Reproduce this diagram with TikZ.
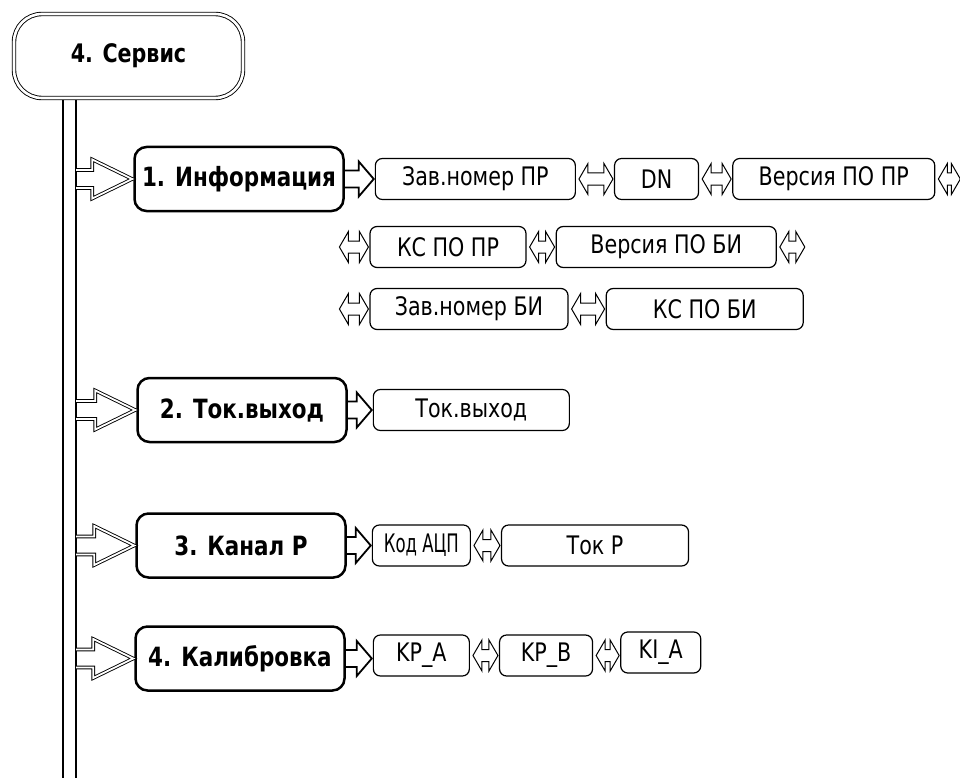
\documentclass[tikz,border=0pt]{standalone}
\usepackage{fontspec}
\newfontfamily\boxfont[FakeStretch=0.9]{DejaVu Sans Condensed}
\usetikzlibrary{positioning, calc, backgrounds}
\tikzset{
  srvnode/.style={
    rectangle, rounded corners=28pt,
    draw, double, double distance=2.6pt, line width=0.9pt, fill=white,
    font=\boxfont\bfseries\fontsize{25.5}{28}\selectfont,
    minimum width=229pt, minimum height=84pt, inner sep=0pt
  },
  mainnode/.style={
    rectangle, rounded corners=12pt,
    draw, line width=2.5pt, fill=white,
    font=\boxfont\bfseries\fontsize{26.5}{29}\selectfont,
    minimum width=209pt, minimum height=64pt, inner sep=0pt
  },
  itemnode/.style={
    rectangle, rounded corners=7pt,
    draw, line width=1.2pt,
    font=\boxfont\fontsize{25.5}{28}\selectfont,
    minimum width=#1, minimum height=41pt, inner sep=0pt
  },
  itemnode/.default=100pt,
  barline/.style={draw, double, double distance=11.5pt, line width=1.5pt},
  fatarrowline/.style={draw, double, double distance=1.8pt, line width=0.9pt},
  smallarrowline/.style={draw, line width=1.8pt},
  dblarrowline/.style={draw, line width=1pt},
}
% hollow block arrows, drawn between named points
\newcommand\fatarrow[2]{%
  \draw[fatarrowline] let \p1=(#1), \p2=(#2.west) in
    (\x1,\y2+9) -- (\x2-41,\y2+9) -- (\x2-41,\y2+19.5) -- (\x2-1,\y2)
    -- (\x2-41,\y2-19.5) -- (\x2-41,\y2-9) -- (\x1,\y2-9);}
\newcommand\smallarrow[2]{%
  \draw[smallarrowline] let \p1=(#1.east), \p2=(#2.west) in
    (\x1,\y1+8.5) -- (\x2-16,\y1+8.5) -- (\x2-16,\y1+17.5) -- (\x2-1,\y1)
    -- (\x2-16,\y1-17.5) -- (\x2-16,\y1-8.5) -- (\x1,\y1-8.5);}
\newcommand\dblarrow[2]{%
  \draw[dblarrowline] let \p1=(#1), \p2=(#2) in
    (\x1+3,\y1) -- (\x1+12,\y1+15.5) -- (\x1+12,\y1+6) -- (\x2-10,\y1+6)
    -- (\x2-10,\y1+15.5) -- (\x2-1,\y1) -- (\x2-10,\y1-15.5) -- (\x2-10,\y1-6)
    -- (\x1+12,\y1-6) -- (\x1+12,\y1-15.5) -- cycle;}
\begin{document}
\begin{tikzpicture}[x=1pt, y=-1pt]
\useasboundingbox (0,0) rectangle (960,778);

% top node and vertical bar
\node[srvnode] (srv) at (128.5,56) {4. Сервис};
\coordinate (barTop) at (69.5,97);
\coordinate (barBot) at (69.5,778);
\coordinate (barR) at (76,0);
\begin{scope}[on background layer]
  \draw[barline] (barTop) -- (barBot);
\end{scope}

% menu items
\node[mainnode] (info) at (239,179)   {1. Информация};
\node[mainnode] (tok)  at (242,410)   {2. Ток.выход};
\node[mainnode] (kan)  at (241,545.5) {3. Канал Р};
\node[mainnode] (kal)  at (240,658.5) {4. Калибровка};

\fatarrow{barR}{info}
\fatarrow{barR}{tok}
\fatarrow{barR}{kan}
\fatarrow{barR}{kal}

% 1. information
\node[itemnode=200pt, right=30pt of info]  (zavPR) {Зав.номер ПР};
\node[itemnode=84pt,  right=38pt of zavPR] (dn)    {DN};
\node[itemnode=202pt, right=33pt of dn]    (verPR) {Версия ПО ПР};
\coordinate[right=26pt of verPR.east] (r1end);

\node[itemnode=156pt] (ksPR) at (448,247) {КС ПО ПР};
\node[itemnode=220pt, right=29pt of ksPR] (verBI) {Версия ПО БИ};
\coordinate[left=33pt of ksPR.west] (r2beg);
\coordinate[right=29pt of verBI.east] (r2end);

\node[itemnode=198pt] (zavBI) at (469,309) {Зав.номер БИ};
\node[itemnode=197pt, right=37pt of zavBI] (ksBI) {КС ПО БИ};
\coordinate[left=33pt of zavBI.west] (r3beg);

\smallarrow{info}{zavPR}
\dblarrow{zavPR.east}{dn.west}
\dblarrow{dn.east}{verPR.west}
\dblarrow{verPR.east}{r1end}
\dblarrow{r2beg}{ksPR.west}
\dblarrow{ksPR.east}{verBI.west}
\dblarrow{verBI.east}{r2end}
\dblarrow{r3beg}{zavBI.west}
\dblarrow{zavBI.east}{ksBI.west}

% 2. current output
\node[itemnode=196pt, right=25pt of tok] (tokOut) {Ток.выход};
\smallarrow{tok}{tokOut}

% 3. channel P
\node[itemnode=98pt,  right=25pt of kan] (kod)  {\scalebox{0.8}[1]{Код АЦП}};
\node[itemnode=187pt, right=30pt of kod] (tokP) {Ток Р};
\smallarrow{kan}{kod}
\dblarrow{kod.east}{tokP.west}

% 4. calibration
\node[itemnode=96pt, right=27pt of kal, yshift=3pt] (kpA) {KP\_A};
\node[itemnode=93pt, right=29pt of kpA] (kpB) {KP\_B};
\node[itemnode=80pt, right=27pt of kpB, yshift=3pt] (kiA) {KI\_A};
\smallarrow{kal}{kpA}
\dblarrow{kpA.east}{kpB.west}
\dblarrow{kpB.east}{kiA.west}

\end{tikzpicture}
\end{document}
